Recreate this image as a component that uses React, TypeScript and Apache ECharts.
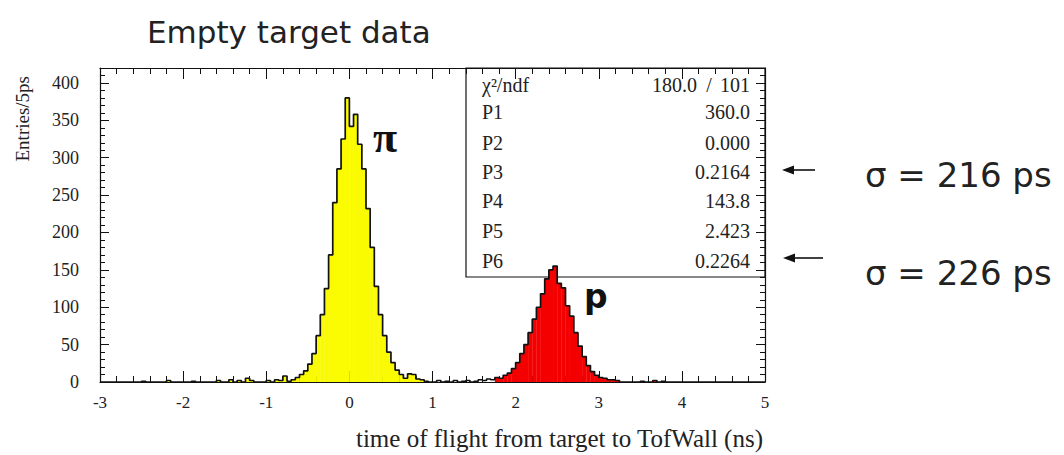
import React, { useEffect, useRef } from "react";
import * as echarts from "echarts";

// Histogram: 160 bins of 0.05 ns from -3 to 5 ns
const binStart = -3;
const binWidth = 0.05;
const counts: number[] = [
  // -3.00 .. -2.55
  0, 0, 0, 0, 0, 0, 0, 0, 0, 0,
  // -2.50 .. -2.05
  1, 0, 0, 0, 0, 0, 2, 0, 0, 0,
  // -2.00 .. -1.55
  0, 0, 1, 0, 0, 0, 0, 0, 2, 0,
  // -1.50 .. -1.05
  0, 3, 0, 2, 0, 5, 2, 0, 0, 0,
  // -1.00 .. -0.55
  2, 0, 3, 2, 8, 1, 3, 6, 10, 15,
  // -0.50 .. -0.05
  24, 38, 62, 90, 125, 170, 240, 285, 325, 380,
  // 0.00 .. 0.45
  342, 358, 318, 285, 232, 180, 128, 90, 62, 40,
  // 0.50 .. 0.95
  26, 16, 10, 5, 11, 10, 4, 3, 1, 0,
  // 1.00 .. 1.45
  0, 2, 0, 1, 0, 2, 0, 1, 2, 0,
  // 1.50 .. 1.95
  1, 3, 2, 4, 3, 6, 5, 9, 12, 18,
  // 2.00 .. 2.45
  26, 38, 50, 66, 84, 100, 118, 138, 150, 155,
  // 2.50 .. 2.95
  132, 126, 102, 88, 66, 48, 34, 22, 14, 9,
  // 3.00 .. 3.45
  6, 5, 3, 3, 2, 0, 0, 0, 0, 0,
  // 3.50 .. 3.95
  1, 0, 0, 2, 0, 1, 0, 0, 0, 0,
  // 4.00 .. 4.45
  0, 0, 0, 0, 0, 0, 0, 0, 0, 0,
  // 4.50 .. 4.95
  0, 0, 0, 0, 0, 0, 0, 0, 0, 0,
];

// fill regions (ns)
const pionFillMax = 1.0;
const protonFillMin = 1.75;

const xTicks = [-3, -2, -1, 0, 1, 2, 3, 4, 5];
const yTicks = [0, 50, 100, 150, 200, 250, 300, 350, 400];

const statLabels = ["\u03c7\u00b2/ndf", "P1", "P2", "P3", "P4", "P5", "P6"];
const statValues = ["", "360.0", "0.000", "0.2164", "143.8", "2.423", "0.2264"];
const chi2 = "180.0";
const ndf = "101";

const sigmaTexts = ["\u03c3 = 216 ps", "\u03c3 = 226 ps"];

export default function App() {
  const ref = useRef<HTMLDivElement>(null);

  useEffect(() => {
    if (!ref.current) return;
    const chart = echarts.init(ref.current, undefined, { renderer: "svg" });

    const bars = counts.map((c, i) => {
      const lo = binStart + i * binWidth;
      return [lo, lo + binWidth, c];
    });
    const outline: number[][] = [];
    counts.forEach((c, i) => {
      const lo = binStart + i * binWidth;
      outline.push([lo, c]);
      outline.push([lo + binWidth, c]);
    });

    const serif = "'Liberation Serif', 'DejaVu Serif', serif";
    const sans = "'DejaVu Sans', 'Noto Sans', sans-serif";
    const statFont = `20px ${serif}`;

    const boxLeft = 466;
    const boxRight = 765;
    const boxTop = 68;
    const boxBottom = 277;
    const rowY = [85, 112, 143, 172, 201, 231, 261];

    const statGraphics: any[] = [];
    statLabels.forEach((lab, i) => {
      statGraphics.push({
        type: "text",
        x: 482,
        y: rowY[i],
        style: {
          text: lab,
          font: statFont,
          fill: "#222",
          textVerticalAlign: "middle",
        },
        z: 20,
      });
      if (statValues[i]) {
        statGraphics.push({
          type: "text",
          x: 750,
          y: rowY[i],
          style: {
            text: statValues[i],
            font: statFont,
            fill: "#222",
            textAlign: "right",
            textVerticalAlign: "middle",
          },
          z: 20,
        });
      }
    });
    statGraphics.push({
      type: "text",
      x: 697,
      y: rowY[0],
      style: { text: chi2, font: statFont, fill: "#222", textAlign: "right", textVerticalAlign: "middle" },
      z: 20,
    });
    statGraphics.push({
      type: "text",
      x: 709,
      y: rowY[0],
      style: { text: "/", font: statFont, fill: "#222", textAlign: "center", textVerticalAlign: "middle" },
      z: 20,
    });
    statGraphics.push({
      type: "text",
      x: 750,
      y: rowY[0],
      style: { text: ndf, font: statFont, fill: "#222", textAlign: "right", textVerticalAlign: "middle" },
      z: 20,
    });

    const arrow = (y: number, x0: number, x1: number) => [
      {
        type: "line",
        shape: { x1: x0 + 8, y1: y, x2: x1, y2: y },
        style: { stroke: "#111", lineWidth: 1.6 },
        z: 20,
      },
      {
        type: "polygon",
        shape: { points: [[x0, y], [x0 + 12, y - 4.5], [x0 + 12, y + 4.5]] },
        style: { fill: "#111" },
        z: 20,
      },
    ];

    const option: any = {
      animation: false,
      backgroundColor: "#fff",
      title: {
        text: "Empty target data",
        left: 142,
        top: 11,
        textStyle: { fontFamily: sans, fontSize: 31, fontWeight: "normal", color: "#222" },
      },
      grid: { left: 100, right: 299, top: 68, bottom: 73, containLabel: false },
      xAxis: [
        {
          type: "value",
          min: -3,
          max: 5,
          interval: 1,
          position: "bottom",
          axisLine: { onZero: false, lineStyle: { color: "#111", width: 1.2 } },
          axisTick: { inside: true, length: 11, lineStyle: { color: "#111" } },
          minorTick: { show: true, splitNumber: 5, length: 6, lineStyle: { color: "#111" } },
          splitLine: { show: false },
          axisLabel: {
            margin: 12,
            fontFamily: serif,
            fontSize: 17,
            color: "#222",
            formatter: (v: number) => (xTicks.includes(v) ? String(v) : ""),
          },
        },
        {
          type: "value",
          min: -3,
          max: 5,
          interval: 1,
          position: "top",
          axisLine: { onZero: false, lineStyle: { color: "#111", width: 1.2 } },
          axisTick: { inside: true, length: 11, lineStyle: { color: "#111" } },
          minorTick: { show: true, splitNumber: 5, length: 6, lineStyle: { color: "#111" } },
          splitLine: { show: false },
          axisLabel: { show: false },
        },
      ],
      yAxis: [
        {
          type: "value",
          min: 0,
          max: 420,
          interval: 50,
          position: "left",
          axisLine: { show: true, onZero: false, lineStyle: { color: "#111", width: 1.2 } },
          axisTick: { show: true, inside: true, length: 9, lineStyle: { color: "#111" } },
          minorTick: { show: true, splitNumber: 5, length: 5, lineStyle: { color: "#111" } },
          splitLine: { show: false },
          axisLabel: {
            margin: 21,
            fontFamily: serif,
            fontSize: 18,
            color: "#222",
            showMaxLabel: false,
            formatter: (v: number) => (yTicks.includes(v) ? String(v) : ""),
          },
        },
        {
          type: "value",
          min: 0,
          max: 420,
          interval: 50,
          position: "right",
          axisLine: { show: true, onZero: false, lineStyle: { color: "#111", width: 1.2 } },
          axisTick: { show: true, inside: true, length: 9, lineStyle: { color: "#111" } },
          minorTick: { show: true, splitNumber: 5, length: 5, lineStyle: { color: "#111" } },
          splitLine: { show: false },
          axisLabel: { show: false },
        },
      ],
      series: [
        {
          type: "custom",
          xAxisIndex: 0,
          yAxisIndex: 0,
          z: 5,
          data: bars,
          encode: { x: [0, 1], y: 2 },
          renderItem: (params: any, api: any) => {
            const x0 = api.value(0);
            const x1 = api.value(1);
            const v = api.value(2);
            const mid = (x0 + x1) / 2;
            let fill = "";
            if (mid < pionFillMax) fill = "#fafa00";
            else if (mid > protonFillMin) fill = "#f50000";
            if (!fill || v <= 0) return null;
            const p0 = api.coord([x0, v]);
            const p1 = api.coord([x1, 0]);
            return {
              type: "rect",
              shape: { x: p0[0], y: p0[1], width: p1[0] - p0[0] + 0.3, height: p1[1] - p0[1] },
              style: { fill },
            };
          },
        },
        {
          type: "line",
          xAxisIndex: 0,
          yAxisIndex: 0,
          z: 6,
          data: outline,
          symbol: "none",
          lineStyle: { color: "#111", width: 1.7 },
        },
      ],
      graphic: [
        {
          type: "rect",
          shape: { x: boxLeft, y: boxTop, width: boxRight - boxLeft, height: boxBottom - boxTop },
          style: { fill: "none", stroke: "#111", lineWidth: 1.2 },
          z: 1,
        },
        ...statGraphics,
        {
          type: "text",
          x: 373,
          y: 115,
          style: { text: "\u03c0", font: `bold 44px ${serif}`, fill: "#111" },
          z: 20,
        },
        {
          type: "text",
          x: 584,
          y: 280,
          style: { text: "p", font: `bold 33px ${sans}`, fill: "#111" },
          z: 20,
        },
        {
          type: "text",
          x: 763,
          y: 438,
          style: {
            text: "time of flight from target to TofWall (ns)",
            font: `25px ${serif}`,
            fill: "#222",
            textAlign: "right",
            textVerticalAlign: "middle",
          },
          z: 20,
        },
        {
          type: "text",
          x: 22,
          y: 76,
          rotation: Math.PI / 2,
          style: {
            text: "Entries/5ps",
            font: `19px ${serif}`,
            fill: "#222",
            textAlign: "right",
            textVerticalAlign: "middle",
          },
          z: 20,
        },
        ...arrow(170, 782, 815),
        ...arrow(258, 783, 823),
        {
          type: "text",
          x: 865,
          y: 175,
          style: { text: sigmaTexts[0], font: `34px ${sans}`, fill: "#222", textVerticalAlign: "middle" },
          z: 20,
        },
        {
          type: "text",
          x: 865,
          y: 273,
          style: { text: sigmaTexts[1], font: `34px ${sans}`, fill: "#222", textVerticalAlign: "middle" },
          z: 20,
        },
      ],
    };

    chart.setOption(option);
    return () => chart.dispose();
  }, []);

  return (
    <div
      ref={ref}
      style={{ position: "fixed", left: 0, top: 0, width: 1064, height: 455, background: "#fff" }}
    />
  );
}
